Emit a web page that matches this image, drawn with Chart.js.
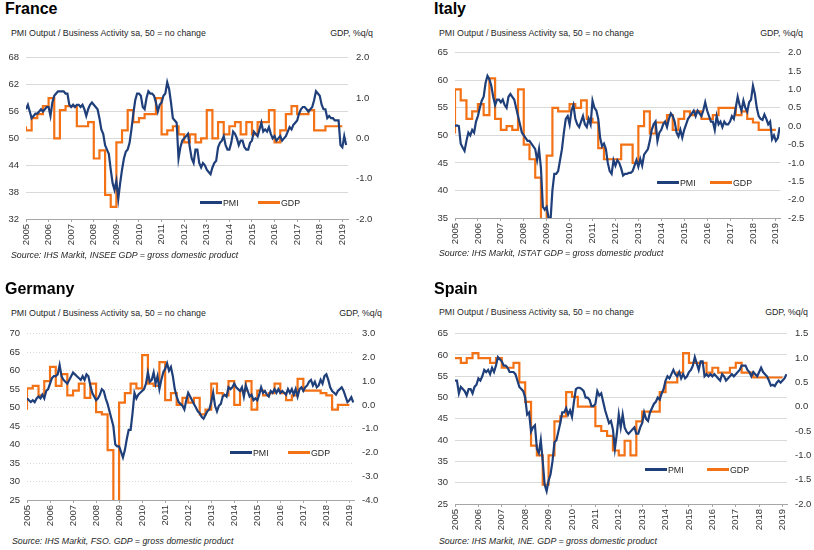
<!DOCTYPE html>
<html>
<head>
<meta charset="utf-8">
<script src="https://cdn.jsdelivr.net/npm/chart.js@4.4.0/dist/chart.umd.min.js"></script>
<style>
  html, body { margin: 0; padding: 0; background: #fff; }
  body { width: 814px; height: 550px; position: relative; overflow: hidden; font-family: "Liberation Sans", Arial, sans-serif; color: #262626; }
  .abs { position: absolute; white-space: nowrap; }
  .title { font-size: 16px; font-weight: bold; color: #000; line-height: 16px; }
  .sub { font-size: 8.8px; line-height: 10px; color: #262626; }
  .src { font-size: 8.8px; line-height: 10px; font-style: italic; color: #262626; }
  .leg { font-size: 8.8px; line-height: 10px; color: #262626; }
  .leg span { display: inline-block; width: 22px; height: 2.5px; vertical-align: middle; margin-right: 1px; position: relative; top: -1px; }
  canvas { position: absolute; }
</style>
</head>
<body>
<script>
'use strict';

var years = ['2005', '2006', '2007', '2008', '2009', '2010', '2011', '2012', '2013', '2014', '2015', '2016', '2017', '2018', '2019'];

// monthly PMI, Jan 2005 - Mar 2019
var pmiFrance = [
  56.5, 57.5, 56.0, 54.5, 55.0, 55.5, 55.5, 56.0, 56.5, 56.0, 56.5, 57.0,
  57.0, 55.0, 58.0, 59.5, 60.0, 60.5, 60.5, 60.5, 60.5, 60.0, 60.0, 57.5,
  57.0, 57.5, 57.0, 57.5, 57.5, 57.0, 57.5, 56.5, 55.0, 56.5, 57.5, 58.0,
  57.5, 57.0, 56.5, 54.5, 52.0, 51.0, 48.5, 47.5, 46.5, 43.0, 40.0, 38.5,
  40.5, 36.5, 40.0, 43.0, 45.5, 47.0, 47.5, 49.0, 52.0, 55.5, 58.5, 60.0,
  60.0, 59.5, 57.0, 56.5, 59.0, 60.5, 60.0, 60.0, 59.5, 58.0, 56.0, 57.5,
  58.0, 59.5, 60.0, 62.5, 61.0, 58.0, 54.5, 54.0, 53.5, 45.5, 48.0, 49.5,
  50.0, 50.5, 51.0, 48.0, 45.5, 44.5, 47.5, 47.5, 44.5, 43.5, 44.5, 44.0,
  43.0, 42.5, 42.0, 43.5, 44.5, 45.0, 48.0, 49.0, 49.5, 50.5, 48.5, 47.5,
  47.5, 49.0, 51.5, 51.0, 50.0, 48.5, 49.5, 49.5, 48.0, 47.5, 47.5, 49.0,
  49.5, 51.5, 51.0, 50.5, 52.0, 53.5, 51.5, 52.0, 51.5, 52.5, 51.0, 50.0,
  50.5, 49.5, 50.0, 50.5, 49.5, 50.0, 50.5, 51.5, 52.5, 52.0, 53.0, 53.5,
  54.0, 55.5, 56.5, 57.0, 57.0, 56.5, 56.0, 56.5, 57.0, 58.5, 60.5, 60.0,
  59.5, 57.5, 56.5, 56.5, 54.5, 55.0, 54.5, 54.5, 54.0, 54.0, 54.0, 48.5,
  48.0, 50.5, 48.5
];
var pmiItaly = [
  51.7, 51.8, 51.7, 48.5, 47.8, 47.2, 49.0, 50.5, 50.0, 51.0, 50.5, 52.5,
  53.5, 55.0, 56.3, 57.0, 59.5, 60.8, 60.2, 59.0, 57.0, 55.5, 56.5, 56.5,
  56.0, 56.5, 55.5, 55.0, 57.0, 57.5, 57.0, 56.5, 55.0, 53.5, 52.0, 50.5,
  50.0, 49.5, 49.0, 49.0, 48.5, 48.0, 47.5, 45.5, 47.5, 44.0, 37.0, 36.5,
  37.0, 35.0, 34.5, 40.0, 43.0, 43.0, 43.5, 45.5, 47.5, 50.5, 53.0, 53.5,
  52.0, 54.5, 55.5, 53.0, 52.0, 51.5, 52.5, 53.5, 52.0, 51.5, 53.0, 52.0,
  56.3, 55.0, 54.5, 53.0, 49.5, 48.0, 48.5, 47.5, 45.0, 43.5, 43.0, 45.5,
  44.5, 45.5, 45.0, 44.0, 42.7, 43.0, 43.0, 43.2, 43.2, 43.5, 44.5, 45.5,
  44.3, 45.7, 44.5, 46.5, 47.0, 47.5, 49.0, 51.0, 52.0, 52.5, 49.0, 50.5,
  51.0, 52.0, 52.5, 51.5, 53.0, 54.0, 53.5, 52.5, 50.5, 49.8, 51.0, 49.6,
  51.0, 52.0, 53.0, 53.5, 54.0, 54.5, 53.5, 54.5, 54.0, 53.5, 54.5, 56.0,
  54.5, 53.5, 52.5, 52.5, 51.0, 53.5, 52.0, 52.5, 51.5, 52.5, 52.0, 52.0,
  52.5, 53.5, 53.0, 55.0, 57.0, 55.5, 54.5, 56.3, 55.0, 54.3, 56.0, 56.5,
  59.0, 57.5, 55.0, 53.5, 53.0, 52.8, 53.8, 53.0, 52.0, 52.5, 49.3, 50.0,
  49.0, 49.5, 51.5
];
var pmiGermany = [
  52.5, 52.0, 51.5, 52.0, 51.5, 52.5, 53.0, 52.5, 53.5, 52.5, 54.5, 55.0,
  56.5, 58.0, 58.5, 58.5, 59.0, 61.5, 58.5, 57.5, 57.0, 56.5, 57.5, 58.5,
  59.5, 59.0, 58.5, 58.0, 57.5, 58.5, 57.5, 59.0, 58.5, 56.0, 54.0, 53.0,
  52.0, 52.5, 53.5, 55.0, 54.5, 52.5, 51.0, 49.0, 47.0, 45.0, 40.0, 39.5,
  39.5, 38.0, 36.5, 38.5, 41.5, 44.0, 44.0, 48.5, 54.0, 52.5, 53.5, 54.0,
  54.5, 55.0, 56.5, 59.5, 57.0, 57.5, 59.5, 56.5, 58.5, 55.0, 57.5, 59.5,
  60.5, 62.0, 60.0, 61.0, 58.5, 55.0, 53.0, 51.5, 51.0, 50.5, 49.5, 52.0,
  54.0, 53.0, 52.0, 51.0, 50.0, 49.0, 48.5, 47.5, 47.0, 48.0, 49.0, 49.5,
  51.5, 54.0, 50.5, 49.0, 50.5, 51.0, 53.0, 53.5, 53.0, 55.5, 55.0, 55.5,
  56.5, 55.5, 55.0, 54.5, 55.5, 53.0, 56.0, 54.5, 53.0, 53.5, 52.0, 52.5,
  52.0, 53.5, 55.5, 54.0, 54.5, 53.5, 53.0, 54.5, 54.0, 55.0, 54.0, 55.0,
  54.0, 54.5, 54.0, 53.5, 55.0, 54.0, 55.0, 53.5, 55.0, 53.0, 55.0, 55.5,
  54.5, 55.5, 56.0, 57.0, 57.5, 56.0, 57.0, 55.5, 56.0, 57.5, 56.5, 58.5,
  59.0, 57.5, 55.5, 54.5, 54.0, 53.5, 54.5, 55.0, 55.5, 54.5, 53.0, 51.5,
  52.0, 52.8, 51.4
];
var pmiSpain = [
  54.0, 54.0, 51.0, 52.5, 52.0, 51.5, 50.5, 52.0, 52.0, 51.0, 52.5, 53.0,
  54.5, 54.0, 55.0, 56.5, 56.0, 56.5, 55.5, 57.0, 56.0, 57.5, 59.5, 59.0,
  58.5, 57.5, 57.5, 57.0, 56.0, 56.0, 56.0, 55.5, 54.0, 52.5, 52.0, 51.5,
  50.0, 46.0, 46.5, 42.0, 43.0, 43.5, 38.0, 37.0, 40.0, 35.0, 29.5, 28.0,
  30.5, 32.0, 35.0, 39.5, 40.0, 42.0, 44.0, 46.5, 46.5, 47.5, 46.0, 47.0,
  45.5, 49.0, 52.0, 52.3, 52.3, 52.0, 51.5, 50.0, 50.0, 49.5, 48.0, 48.0,
  48.5, 51.5, 50.5, 51.0, 49.0, 47.0, 45.5, 44.0, 44.5, 42.5, 38.0, 41.5,
  46.0, 43.0, 46.0, 43.0, 42.0, 41.5, 42.0, 42.5, 43.0, 41.5, 41.5, 43.0,
  44.0, 46.5, 45.0, 44.5, 46.5, 47.5, 48.5, 49.0, 50.0, 49.5, 51.0, 52.0,
  54.0, 55.0, 54.5, 55.5, 56.5, 55.5, 55.0, 56.0, 54.5, 55.5, 54.5, 55.0,
  56.0, 56.5, 57.5, 59.5, 58.0, 56.5, 58.5, 58.5, 55.0, 55.5, 55.0, 55.5,
  55.0, 55.5, 55.0, 54.5, 54.0, 55.5, 55.0, 54.0, 54.5, 55.0, 55.5, 55.0,
  55.5, 56.0, 56.5, 57.5, 57.5, 57.5, 56.5, 56.0, 55.0, 56.0, 55.5, 55.0,
  56.0, 57.0, 56.0, 55.5, 55.0, 54.0, 52.8, 53.0, 52.7, 53.5, 54.0, 53.5,
  54.0, 54.5, 55.5
];

// quarterly GDP %q/q, 2005Q1 - 2018Q4
var gdpFrance = [
  0.3, 0.2, 0.5, 0.6, 0.8, 1.0, 0.0, 0.7, 0.8, 0.8, 0.3, 0.3,
  0.4, -0.5, -0.3, -1.4, -1.7, -0.1, 0.2, 0.7, 0.4, 0.5, 0.6, 0.6,
  1.0, 0.1, 0.2, 0.3, 0.1, -0.1, 0.1, -0.1, 0.0, 0.7, 0.0, 0.4,
  0.1, 0.3, 0.4, 0.1, 0.4, 0.1, 0.4, 0.4, 0.7, -0.1, 0.2, 0.6,
  0.8, 0.6, 0.6, 0.7, 0.2, 0.2, 0.3, 0.3
];
var gdpItaly = [
  -0.2, 1.0, 0.7, 0.2, 0.4, 0.6, 0.3, 1.3, 0.2, -0.1, 0.0, -0.1,
  1.0, -0.5, -0.9, -1.4, -2.7, -0.8, 0.5, 0.4, 0.4, 0.6, 0.5, 0.7,
  0.2, 0.1, -0.6, -0.9, -0.9, -0.9, -0.5, -0.5, -1.0, 0.0, 0.4, -0.2,
  0.1, 0.1, 0.3, -0.1, 0.2, 0.4, 0.3, 0.4, 0.2, 0.2, 0.3, 0.5,
  0.5, 0.5, 0.3, 0.4, 0.2, 0.1, -0.1, -0.1
];
var gdpGermany = [
  -0.2, 0.7, 0.8, 0.4, 1.0, 1.6, 0.8, 1.3, 0.4, 0.6, 0.9, 0.3,
  0.9, -0.3, -0.4, -1.9, -4.5, 0.1, 0.5, 0.9, 0.7, 2.1, 0.9, 0.8,
  1.8, 0.2, 0.5, 0.0, 0.3, 0.1, 0.3, -0.4, -0.2, 0.9, 0.5, 0.4,
  1.0, 0.0, 0.6, 1.0, -0.2, 0.6, 0.4, 0.5, 0.9, 0.5, 0.2, 0.4,
  1.1, 0.6, 0.6, 0.6, 0.5, 0.4, -0.2, 0.0
];
var gdpSpain = [
  1.0, 1.0, 0.9, 1.0, 1.1, 1.0, 1.0, 0.9, 1.0, 0.8, 0.8, 0.9,
  0.5, 0.1, -0.8, -1.0, -1.6, -1.0, -0.3, -0.2, 0.3, 0.2, 0.0, 0.0,
  0.0, -0.4, -0.5, -0.6, -0.9, -1.0, -0.7, -1.0, -0.3, -0.1, -0.1, -0.1,
  0.3, 0.5, 0.5, 0.7, 1.1, 0.9, 0.9, 0.9, 0.7, 0.8, 0.7, 0.7,
  0.8, 0.9, 0.7, 0.7, 0.6, 0.6, 0.6, 0.6
];

var pmiColor = '#1f3f7a';
var gdpColor = '#f47216';
var tickFont = { family: 'Liberation Sans, Arial, sans-serif', size: 9.5 };
var tickColor = '#333333';

function monthly(values) {
    return values.map(function (v, i) { return { x: 2005 + i / 12, y: v }; });
}

function quarterly(values) {
    var pts = values.map(function (v, i) { return { x: 2005 + i / 4, y: v }; });
    // close the last quarter
    pts.push({ x: 2005 + values.length / 4, y: values[values.length - 1] });
    return pts;
}

function addText(cls, text, left, top, right) {
    var d = document.createElement('div');
    d.className = 'abs ' + cls;
    d.textContent = text;
    d.style.top = top + 'px';
    if (right !== undefined) {
        d.style.right = (814 - right) + 'px';
    } else {
        d.style.left = left + 'px';
    }
    document.body.appendChild(d);
}

function addLegend(x1, x2, y) {
    var a = document.createElement('div');
    a.className = 'abs leg';
    a.style.left = x1 + 'px';
    a.style.top = (y - 5) + 'px';
    a.innerHTML = '<span style="background:' + pmiColor + '"></span>PMI';
    document.body.appendChild(a);
    var b = document.createElement('div');
    b.className = 'abs leg';
    b.style.left = x2 + 'px';
    b.style.top = (y - 5) + 'px';
    b.innerHTML = '<span style="background:' + gdpColor + '"></span>GDP';
    document.body.appendChild(b);
}

function makeChart(cfg) {
    var leftW = cfg.leftW, rightW = 26, padTop = 8, xH = 32;
    var plotW = cfg.right - cfg.left, plotH = cfg.bottom - cfg.top;
    var cv = document.createElement('canvas');
    cv.width = leftW + plotW + rightW;
    cv.height = padTop + plotH + xH;
    cv.style.left = (cfg.left - leftW) + 'px';
    cv.style.top = (cfg.top - padTop) + 'px';
    document.body.appendChild(cv);

    return new Chart(cv, {
        type: 'line',
        data: {
            datasets: [
                {
                    label: 'GDP',
                    data: quarterly(cfg.gdp),
                    yAxisID: 'y1',
                    borderColor: gdpColor,
                    borderWidth: 2.2,
                    stepped: 'after',
                    pointRadius: 0,
                    fill: false,
                    order: 2
                },
                {
                    label: 'PMI',
                    data: monthly(cfg.pmi),
                    yAxisID: 'y',
                    borderColor: pmiColor,
                    borderWidth: 2.2,
                    tension: 0,
                    pointRadius: 0,
                    fill: false,
                    order: 1
                }
            ]
        },
        options: {
            responsive: false,
            animation: false,
            layout: { padding: { top: padTop, left: 0, right: 0, bottom: 0 } },
            plugins: { legend: { display: false }, tooltip: { enabled: false } },
            scales: {
                x: {
                    type: 'linear',
                    min: 2005,
                    max: cfg.xmax,
                    afterFit: function (s) { s.height = xH; },
                    afterBuildTicks: function (s) {
                        s.ticks = years.map(function (y) { return { value: Number(y) }; });
                    },
                    grid: { display: true, drawOnChartArea: false, drawTicks: true, tickLength: 3, color: '#a6a6a6' },
                    border: { display: true, color: '#a6a6a6', width: 1 },
                    ticks: {
                        autoSkip: false,
                        maxRotation: 90,
                        minRotation: 90,
                        padding: 2,
                        font: tickFont,
                        color: tickColor,
                        callback: function (v) { return String(v); }
                    }
                },
                y: {
                    position: 'left',
                    min: cfg.ymin,
                    max: cfg.ymax,
                    afterFit: function (s) { s.width = leftW; },
                    grid: { color: '#d9d9d9', lineWidth: 1, drawTicks: false },
                    border: { display: false, dash: cfg.dash || [] },
                    ticks: { stepSize: cfg.ystep, padding: 7, font: tickFont, color: tickColor }
                },
                y1: {
                    position: 'right',
                    min: cfg.gmin,
                    max: cfg.gmax,
                    afterFit: function (s) { s.width = rightW; },
                    grid: { display: false, drawTicks: false },
                    border: { display: false },
                    ticks: {
                        stepSize: cfg.gstep,
                        padding: 8,
                        font: tickFont,
                        color: tickColor,
                        callback: function (v) { return v.toFixed(1); }
                    }
                }
            }
        }
    });
}

var sub = 'PMI Output  / Business Activity sa, 50 = no change';

// France
addText('title', 'France', 5, 1);
addText('sub', sub, 11, 28);
addText('sub', 'GDP, %q/q', 0, 28, 373);
makeChart({ pmi: pmiFrance, gdp: gdpFrance, left: 26, right: 348, top: 52, bottom: 219, leftW: 26,
    ymin: 32, ymax: 68, ystep: 6, gmin: -2, gmax: 2, gstep: 1, xmax: 2019.25 });
addLegend(200, 258, 203);
addText('src', 'Source: IHS Markit, INSEE GDP = gross domestic product', 11, 250);

// Italy
addText('title', 'Italy', 434, 1);
addText('sub', sub, 439, 28);
addText('sub', 'GDP, %q/q', 0, 28, 803);
makeChart({ pmi: pmiItaly, gdp: gdpItaly, left: 455, right: 780, top: 47, bottom: 218, leftW: 28,
    ymin: 35, ymax: 65, ystep: 5, gmin: -2.5, gmax: 2, gstep: 0.5, xmax: 2019.18 });
addLegend(657, 710, 183);
addText('src', 'Source: IHS Markit, ISTAT GDP = gross domestic product', 439, 248);

// Germany
addText('title', 'Germany', 5, 281);
addText('sub', sub, 11, 308);
addText('sub', 'GDP, %q/q', 0, 308, 382);
makeChart({ pmi: pmiGermany, gdp: gdpGermany, left: 27, right: 354, top: 328, bottom: 500, leftW: 27,
    ymin: 25, ymax: 70, ystep: 5, gmin: -4, gmax: 3, gstep: 1, xmax: 2019.2, dash: [1, 2] });
addLegend(230, 288, 453);
addText('src', 'Source: IHS Markit, FSO. GDP = gross domestic product', 12, 536);

// Spain
addText('title', 'Spain', 434, 281);
addText('sub', sub, 439, 307);
addText('sub', 'GDP, %q/q', 0, 307, 808);
makeChart({ pmi: pmiSpain, gdp: gdpSpain, left: 455, right: 787, top: 328, bottom: 504, leftW: 28,
    ymin: 25, ymax: 65, ystep: 5, gmin: -2, gmax: 1.5, gstep: 0.5, xmax: 2019.19 });
addLegend(645, 707, 470);
addText('src', 'Source: IHS Markit, INE. GDP = gross domestic product', 439, 536);
</script>
</body>
</html>
